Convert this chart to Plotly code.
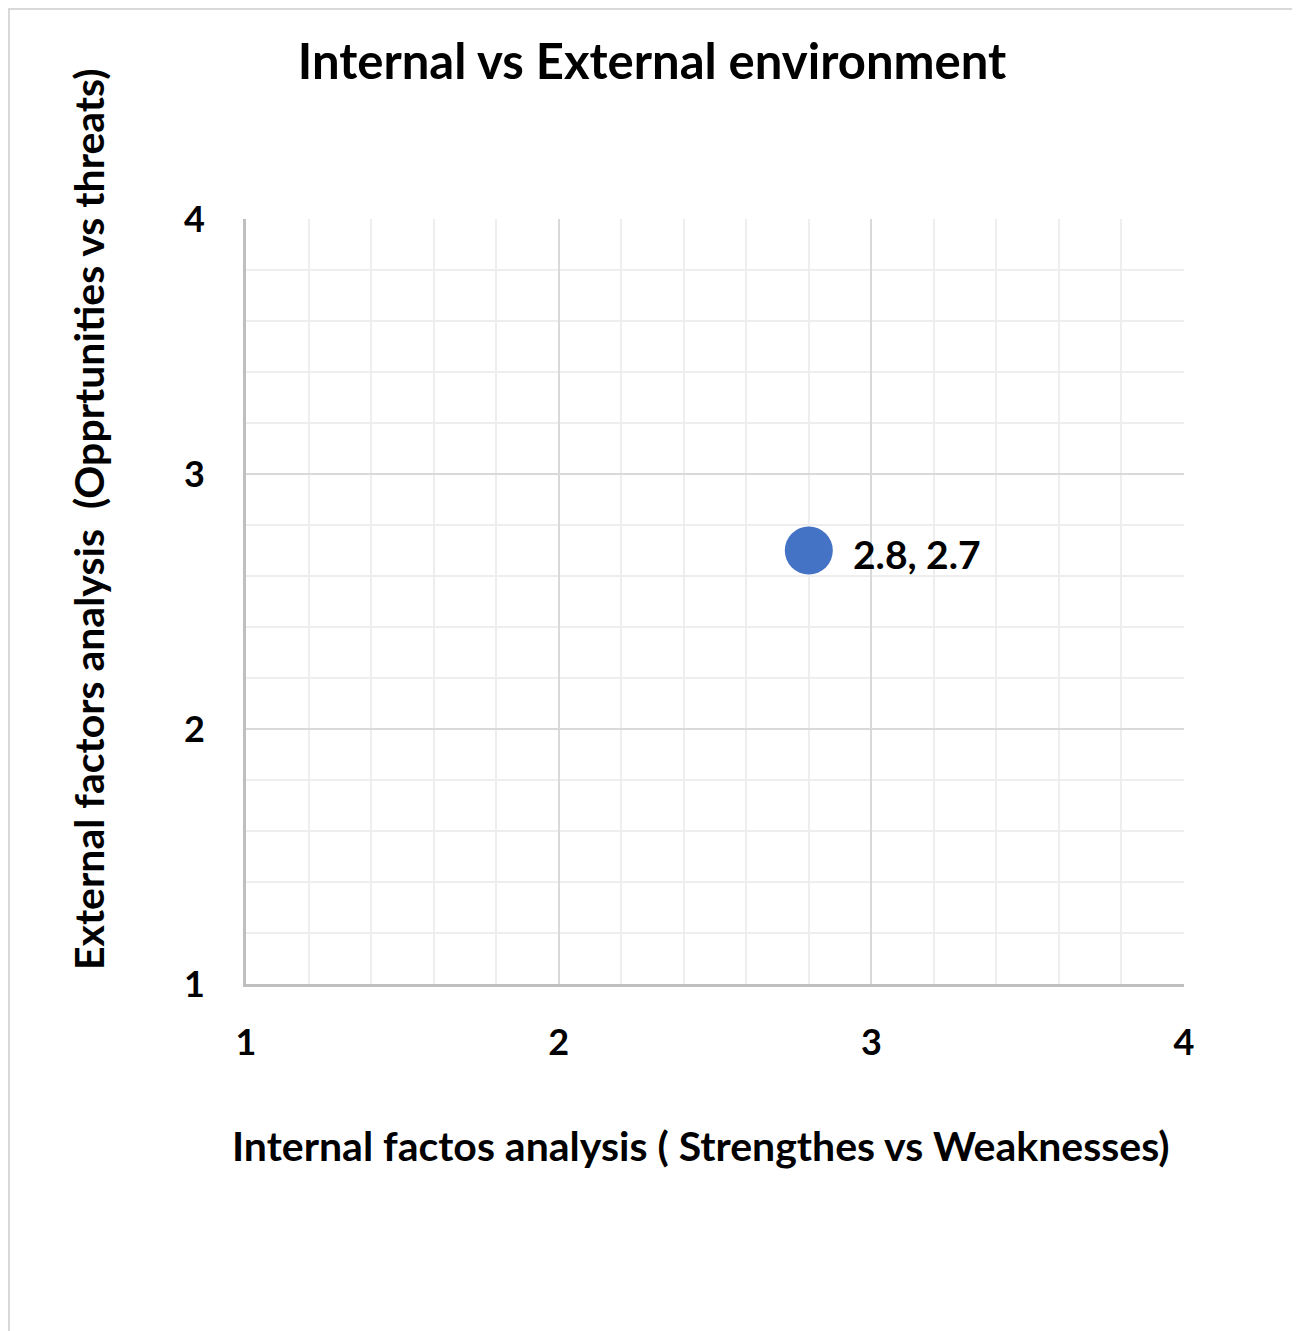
import plotly.graph_objects as go

x_vals = [2.8]
y_vals = [2.7]
labels = ["2.8, 2.7"]
tick_vals = [1, 2, 3, 4]

FONT = "Lato"
fig = go.Figure()
fig.add_trace(go.Scatter(
    x=x_vals, y=y_vals, mode="markers",
    marker=dict(size=48, color="#4472C4"),
    cliponaxis=False, showlegend=False,
))
for xv, yv, lab in zip(x_vals, y_vals, labels):
    fig.add_annotation(x=xv, y=yv, text=lab, showarrow=False, xanchor="left",
                       xshift=42, yshift=-3,
                       font=dict(family=FONT, size=39, color="#000000", weight="bold"))

axis_common = dict(
    range=[1, 4], tickvals=tick_vals, showgrid=True, gridcolor="#d9d9d9", gridwidth=2,
    minor=dict(dtick=0.2, showgrid=True, gridcolor="#eeeeee", gridwidth=2),
    showline=True, linecolor="#bfbfbf", linewidth=3, zeroline=False,
    tickfont=dict(family=FONT, size=36, color="#000000", weight="bold"),
    ticks="",
)
fig.update_xaxes(**axis_common, ticklabelstandoff=25)
fig.update_yaxes(**axis_common, ticklabelstandoff=31)

W, H = 1292, 1323
L, R, T, B = 238, 116, 211, 347
pw, ph = W - L - R, H - T - B
# page px -> paper coords (page has 8px body offset)
px = lambda v: (v - 8 - L) / pw
py = lambda v: (T + ph - (v - 8)) / ph

fig.add_annotation(xref="paper", yref="paper", x=px(701), y=py(1145),
                   text="Internal factos analysis ( Strengthes vs Weaknesses)",
                   showarrow=False, xanchor="center", yanchor="middle",
                   font=dict(family=FONT, size=41, color="#000000", weight="bold"))
fig.add_annotation(xref="paper", yref="paper", x=px(88), y=py(520), textangle=-90,
                   text="External factors analysis  (Opprtunities vs threats)",
                   showarrow=False, xanchor="center", yanchor="middle",
                   font=dict(family=FONT, size=41, color="#000000", weight="bold"))

fig.update_layout(
    width=W, height=H,
    margin=dict(l=L, r=R, t=T, b=B),
    paper_bgcolor="white", plot_bgcolor="white",
    title=dict(text="Internal vs External environment", x=(652 - 8) / W, xanchor="center",
               y=1 - 54 / H, yanchor="middle",
               font=dict(family=FONT, size=49, color="#000000", weight="bold")),
)
fig.add_shape(type="rect", xref="paper", yref="paper",
              x0=(1 - L) / pw, x1=(1290 - L) / pw,
              y0=(T + ph - 1330) / ph, y1=(T + ph - 1) / ph,
              line=dict(color="#d9d9d9", width=2), layer="below")
fig.write_html("out.html")
